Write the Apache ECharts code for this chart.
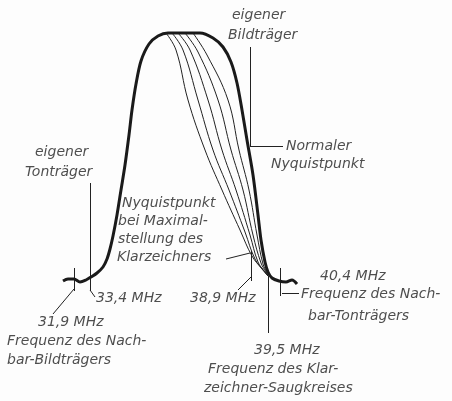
<!DOCTYPE html>
<html>
<head>
<meta charset="utf-8">
<script src="https://cdn.jsdelivr.net/npm/echarts@6/dist/echarts.min.js"></script>
<style>
  html, body { margin: 0; padding: 0; background: #fdfdfd; }
  #chart { width: 452px; height: 401px; }
</style>
</head>
<body>
<div id="chart"></div>
<script>
// Schematic drawing, no numeric scale: x and y are positions
var mainCurve = [[63, 281], [68, 279], [74, 279], [80, 282], [86, 280], [91, 277], [97, 273], [103, 267],
    [107, 259], [110, 249], [113, 236], [117, 215], [121, 190], [125, 165], [129, 135], [132, 110],
    [136, 84], [141, 61], [149, 44], [158, 36], [168, 33], [200, 33], [213, 38], [223, 47], [231, 62],
    [237, 83], [242, 110], [247, 140], [253, 175], [258, 215], [261, 240], [265, 262], [268, 272],
    [272, 278], [279, 281], [286, 282], [292, 280], [297, 284]];

// Nyquist slope for the different Klarzeichner positions (left = maximal)
var slope1 = [[166, 33], [176, 50], [188, 100], [205, 150], [222, 190], [240, 230], [252, 256], [262, 269], [268, 276]];
var slope2 = [[172, 33], [183, 50], [198, 100], [213, 150], [229, 190], [245, 232], [255, 259], [264, 271], [268, 276]];
var slope3 = [[178, 33], [190, 50], [208, 100], [222, 150], [236, 190], [250, 235], [258, 262], [265, 272], [268, 276]];
var slope4 = [[185, 33], [198, 52], [218, 100], [231, 150], [243, 190], [253, 235], [261, 263], [266, 272], [268, 276]];
var slope5 = [[193, 33], [207, 55], [228, 100], [239, 150], [249, 190], [257, 235], [263, 264], [267, 273], [268, 276]];

// marker and pointer strokes
var markers = [
    [[74, 268], [74, 291]], [[74, 289], [53, 314]],
    [[90, 183], [90, 291]], [[90, 290], [95, 297]],
    [[250, 47], [250, 146]], [[250, 146], [283, 146]],
    [[251, 251], [251, 281]], [[238, 290], [251, 277]],
    [[226, 259], [250, 253]],
    [[268, 276], [268, 333]],
    [[280, 268], [280, 296]], [[282, 293], [299, 293]]
];

var labelTexts = ['eigener', 'Bildträger', 'eigener', 'Tonträger', 'Normaler', 'Nyquistpunkt',
    'Nyquistpunkt', 'bei Maximal-', 'stellung des', 'Klarzeichners',
    '33,4 MHz', '38,9 MHz', '31,9 MHz', 'Frequenz des Nach-', 'bar-Bildträgers',
    '40,4 MHz', 'Frequenz des Nach-', 'bar-Tonträgers',
    '39,5 MHz', 'Frequenz des Klar-', 'zeichner-Saugkreises'];
var labelAnchors = [[232, 15], [228, 35], [35, 152], [25, 172], [286, 146], [271, 164],
    [122, 203], [118, 221], [118, 239], [117, 257],
    [96, 298], [190, 298], [38, 322], [7, 341], [7, 360],
    [320, 276], [301, 294], [308, 316],
    [254, 350], [208, 369], [204, 388]];

var myChart = echarts.init(document.getElementById('chart'));

var ink = '#222';
var slopes = [slope1, slope2, slope3, slope4, slope5];
var series = [];

slopes.forEach(function (s) {
    series.push({
        type: 'line',
        data: s,
        smooth: 0.4,
        symbol: 'none',
        clip: false,
        silent: true,
        lineStyle: { color: ink, width: 1 }
    });
});

series.push({
    type: 'line',
    data: mainCurve,
    smooth: 0.3,
    symbol: 'none',
    clip: false,
    silent: true,
    lineStyle: { color: '#1a1a1a', width: 3 }
});

series.push({
    type: 'lines',
    coordinateSystem: 'cartesian2d',
    silent: true,
    data: markers.map(function (m) {
        return { coords: m };
    }),
    lineStyle: { color: ink, width: 1, opacity: 1 }
});

series.push({
    type: 'scatter',
    symbolSize: 0,
    silent: true,
    clip: false,
    data: labelTexts.map(function (t, i) {
        return { name: t, value: labelAnchors[i] };
    }),
    label: {
        show: true,
        position: 'right',
        distance: 0,
        formatter: '{b}',
        fontFamily: 'DejaVu Sans',
        fontStyle: 'italic',
        fontSize: 14,
        color: ink
    }
});

option = {
    backgroundColor: '#fdfdfd',
    animation: false,
    grid: { left: 0, right: 0, top: 0, bottom: 0 },
    xAxis: { type: 'value', min: 0, max: 452, show: false },
    yAxis: { type: 'value', min: 0, max: 401, inverse: true, show: false },
    series: series
};
myChart.setOption(option);
window.addEventListener('resize', function () {
    myChart.resize();
});
</script>
</body>
</html>
